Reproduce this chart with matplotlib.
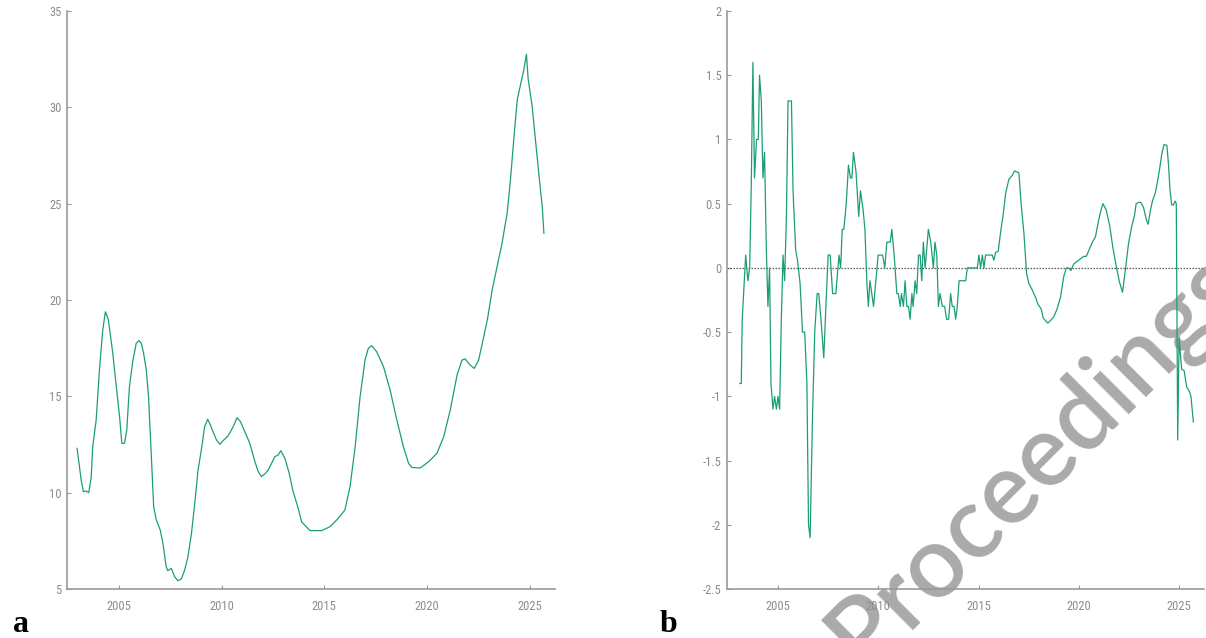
import matplotlib
matplotlib.use("Agg")
import matplotlib.pyplot as plt
from matplotlib import font_manager

# Panel a: level series
years_a = [2002.96, 2003.16, 2003.27, 2003.40, 2003.53, 2003.65, 2003.72, 2003.89,
           2004.05, 2004.21, 2004.34, 2004.48, 2004.70, 2004.87, 2005.03, 2005.14,
           2005.27, 2005.38, 2005.51, 2005.68, 2005.84, 2005.97, 2006.09, 2006.20,
           2006.33, 2006.44, 2006.57, 2006.69, 2006.82, 2007.01, 2007.14, 2007.30,
           2007.38, 2007.55, 2007.71, 2007.87, 2008.04, 2008.20, 2008.36, 2008.53,
           2008.69, 2008.85, 2009.01, 2009.17, 2009.32, 2009.45, 2009.58, 2009.75,
           2009.91, 2010.07, 2010.31, 2010.56, 2010.75, 2010.92, 2011.13, 2011.37,
           2011.62, 2011.78, 2011.94, 2012.10, 2012.27, 2012.43, 2012.59, 2012.75,
           2012.88, 2013.08, 2013.29, 2013.48, 2013.68, 2013.81, 2013.89, 2014.30,
           2014.87, 2015.27, 2015.68, 2016.00, 2016.25, 2016.50, 2016.74, 2016.98,
           2017.14, 2017.31, 2017.55, 2017.88, 2018.20, 2018.53, 2018.85, 2019.10,
           2019.26, 2019.67, 2020.08, 2020.48, 2020.81, 2021.13, 2021.46, 2021.70,
           2021.86, 2022.10, 2022.30, 2022.51, 2022.76, 2022.95, 2023.17, 2023.41,
           2023.65, 2023.90, 2024.06, 2024.22, 2024.39, 2024.51, 2024.71, 2024.84,
           2024.92, 2025.12, 2025.28, 2025.44, 2025.61, 2025.69]
values_a = [12.3, 10.66, 10.05, 10.09, 10.0, 10.83, 12.38, 13.77,
            16.37, 18.44, 19.39, 19.0, 17.23, 15.5, 13.94, 12.56,
            12.56, 13.25, 15.5, 16.88, 17.75, 17.89, 17.75, 17.23,
            16.37, 14.98, 12.04, 9.27, 8.58, 8.06, 7.37, 6.16,
            5.95, 6.07, 5.64, 5.43, 5.53, 5.99, 6.68, 7.89,
            9.45, 11.18, 12.21, 13.42, 13.81, 13.51, 13.16, 12.73,
            12.51, 12.70, 12.94, 13.42, 13.89, 13.68, 13.16, 12.56,
            11.61, 11.09, 10.83, 10.97, 11.18, 11.52, 11.87, 11.95,
            12.18, 11.78, 11.0, 10.05, 9.36, 8.84, 8.49, 8.03,
            8.03, 8.23, 8.67, 9.1, 10.31, 12.38, 14.98, 16.88,
            17.49, 17.63, 17.31, 16.54, 15.33, 13.77, 12.38, 11.52,
            11.31, 11.28, 11.61, 12.04, 12.9, 14.29, 16.1, 16.88,
            16.94, 16.62, 16.45, 16.88, 18.09, 19.05, 20.52, 21.73,
            22.94, 24.5, 26.22, 28.3, 30.38, 30.98, 31.93, 32.76,
            31.5, 30.03, 28.3, 26.57, 24.84, 23.46]

# Panel b: change series
years_b = [2003.11, 2003.18, 2003.23, 2003.31, 2003.40, 2003.51, 2003.60, 2003.68,
           2003.76, 2003.84, 2003.94, 2004.03, 2004.09, 2004.18, 2004.26, 2004.34,
           2004.43, 2004.51, 2004.59, 2004.66, 2004.76, 2004.84, 2004.93, 2005.01,
           2005.09, 2005.18, 2005.26, 2005.34, 2005.43, 2005.51, 2005.68, 2005.76,
           2005.89, 2005.98, 2006.11, 2006.23, 2006.34, 2006.45, 2006.53, 2006.61,
           2006.73, 2006.84, 2006.96, 2007.04, 2007.14, 2007.29, 2007.41, 2007.51,
           2007.61, 2007.73, 2007.89, 2008.05, 2008.13, 2008.21, 2008.29, 2008.41,
           2008.52, 2008.62, 2008.69, 2008.77, 2008.90, 2009.03, 2009.12, 2009.25,
           2009.34, 2009.44, 2009.51, 2009.59, 2009.77, 2010.00, 2010.22, 2010.33,
           2010.43, 2010.60, 2010.68, 2010.80, 2010.93, 2011.00, 2011.10, 2011.16,
           2011.26, 2011.34, 2011.43, 2011.51, 2011.59, 2011.68, 2011.74, 2011.84,
           2011.92, 2012.01, 2012.09, 2012.17, 2012.25, 2012.34, 2012.50, 2012.62,
           2012.75, 2012.83, 2012.92, 2013.00, 2013.08, 2013.20, 2013.31, 2013.41,
           2013.51, 2013.61, 2013.69, 2013.78, 2013.86, 2013.94, 2014.03, 2014.36,
           2014.44, 2014.94, 2015.02, 2015.10, 2015.19, 2015.27, 2015.35, 2015.68,
           2015.76, 2015.85, 2015.98, 2016.10, 2016.23, 2016.35, 2016.51, 2016.68,
           2016.79, 2017.01, 2017.12, 2017.26, 2017.39, 2017.50, 2017.67, 2017.84,
           2017.95, 2018.12, 2018.22, 2018.33, 2018.45, 2018.58, 2018.75, 2018.91,
           2019.08, 2019.24, 2019.37, 2019.49, 2019.60, 2019.74, 2019.90, 2020.07,
           2020.24, 2020.37, 2020.53, 2020.70, 2020.82, 2020.98, 2021.10, 2021.20,
           2021.36, 2021.53, 2021.69, 2021.86, 2022.02, 2022.17, 2022.31, 2022.47,
           2022.64, 2022.77, 2022.85, 2022.97, 2023.08, 2023.22, 2023.35, 2023.45,
           2023.55, 2023.66, 2023.80, 2023.91, 2024.01, 2024.13, 2024.24, 2024.38,
           2024.46, 2024.54, 2024.62, 2024.71, 2024.79, 2024.85, 2024.92, 2024.99,
           2025.12, 2025.24, 2025.37, 2025.50, 2025.58, 2025.70]
values_b = [-0.9, -0.9, -0.4, -0.17, 0.1, -0.1, 0.0, 0.66,
            1.6, 0.7, 1.0, 1.0, 1.5, 1.3, 0.7, 0.9,
            0.14, -0.3, 0.0, -0.9, -1.1, -1.0, -1.1, -1.0,
            -1.1, -0.38, 0.1, -0.1, 0.4, 1.3, 1.3, 0.6,
            0.14, 0.06, -0.12, -0.5, -0.5, -0.9, -2.0, -2.1,
            -1.15, -0.5, -0.2, -0.2, -0.38, -0.7, -0.25, 0.1,
            0.1, -0.2, -0.2, 0.1, 0.0, 0.3, 0.3, 0.5,
            0.8, 0.7, 0.7, 0.9, 0.74, 0.4, 0.6, 0.45,
            0.3, -0.12, -0.3, -0.1, -0.3, 0.1, 0.1, 0.0,
            0.2, 0.2, 0.3, 0.09, -0.2, -0.2, -0.3, -0.2,
            -0.3, -0.1, -0.3, -0.3, -0.4, -0.2, -0.3, -0.1,
            -0.2, 0.1, 0.1, -0.1, 0.2, 0.0, 0.3, 0.2,
            0.0, 0.2, 0.1, -0.3, -0.2, -0.3, -0.3, -0.4,
            -0.4, -0.2, -0.3, -0.3, -0.4, -0.3, -0.1, -0.1,
            0.0, 0.0, 0.1, 0.0, 0.1, 0.0, 0.1, 0.1,
            0.06, 0.12, 0.13, 0.28, 0.42, 0.58, 0.69, 0.72,
            0.755, 0.74, 0.5, 0.27, -0.04, -0.12, -0.17, -0.23,
            -0.28, -0.32, -0.39, -0.41, -0.43, -0.41, -0.38, -0.32,
            -0.23, -0.07, 0.0, 0.0, -0.02, 0.03, 0.05, 0.07,
            0.09, 0.09, 0.15, 0.21, 0.24, 0.37, 0.45, 0.5,
            0.45, 0.33, 0.16, 0.01, -0.11, -0.19, -0.02, 0.19,
            0.33, 0.41, 0.5, 0.51, 0.51, 0.47, 0.38, 0.34,
            0.44, 0.52, 0.58, 0.67, 0.76, 0.89, 0.96, 0.955,
            0.81, 0.6, 0.49, 0.49, 0.52, 0.5, -1.34, -0.55,
            -0.79, -0.8, -0.93, -0.96, -1.0, -1.2]

xticks = [2005, 2010, 2015, 2020, 2025]
yticks_a = [5, 10, 15, 20, 25, 30, 35]
yticks_b = [-2.5, -2, -1.5, -1, -0.5, 0, 0.5, 1, 1.5, 2]
ytick_labels_b = ["-2.5", "-2", "-1.5", "-1", "-0.5", "0", "0.5", "1", "1.5", "2"]

installed = {f.name for f in font_manager.fontManager.ttflist}
tick_font = "DejaVu Sans"
for name in ["Liberation Sans Narrow", "DejaVu Sans Condensed", "Roboto Condensed"]:
    if name in installed:
        tick_font = name
        break

LINE = "#1b9e77"
GREY = "#8c8c8c"

fig = plt.figure(figsize=(12.06, 6.38), dpi=100)
ax_a = fig.add_axes([67 / 1206, 49 / 638, 488 / 1206, 578 / 638])
ax_b = fig.add_axes([727 / 1206, 49 / 638, 477 / 1206, 578 / 638])


def style(ax):
    ax.set_facecolor("none")
    for side in ["top", "right"]:
        ax.spines[side].set_visible(False)
    for side in ["left", "bottom"]:
        ax.spines[side].set_color("#9a9a9a")
        ax.spines[side].set_linewidth(1.2)
    ax.tick_params(direction="in", length=3, width=0.8, color="#9a9a9a",
                   labelcolor=GREY, labelsize=9)
    ax.tick_params(axis="y", pad=4)
    ax.tick_params(axis="x", pad=8)
    ax.set_xlim(2002.47, 2026.23)
    ax.set_xticks(xticks)
    for lab in ax.get_xticklabels() + ax.get_yticklabels():
        lab.set_fontfamily(tick_font)


ax_a.plot(years_a, values_a, color=LINE, lw=0.9)
ax_a.set_ylim(5, 35)
ax_a.set_yticks(yticks_a)
style(ax_a)

ax_b.axhline(0, color="#555555", lw=0.9, ls=(0, (1.2, 1.2)))
ax_b.plot(years_b, values_b, color=LINE, lw=0.9)
ax_b.set_ylim(-2.5, 2)
ax_b.set_yticks(yticks_b)
ax_b.set_yticklabels(ytick_labels_b)
style(ax_b)

fig.text(13 / 1206, 6 / 638, "a", fontsize=23, fontweight="bold",
         family="Liberation Serif", va="baseline")
fig.text(660 / 1206, 6 / 638, "b", fontsize=23, fontweight="bold",
         family="Liberation Serif", va="baseline")

# watermark, runs off the lower right corner as in the source
fig.text(864 / 1206, -33 / 638, "Proceedings", fontsize=72, color="#aaaaaa",
         family="Lato", fontweight="semibold", rotation=45,
         rotation_mode="anchor", ha="left", va="baseline", zorder=-1)

fig.savefig("out.png", dpi=100)
